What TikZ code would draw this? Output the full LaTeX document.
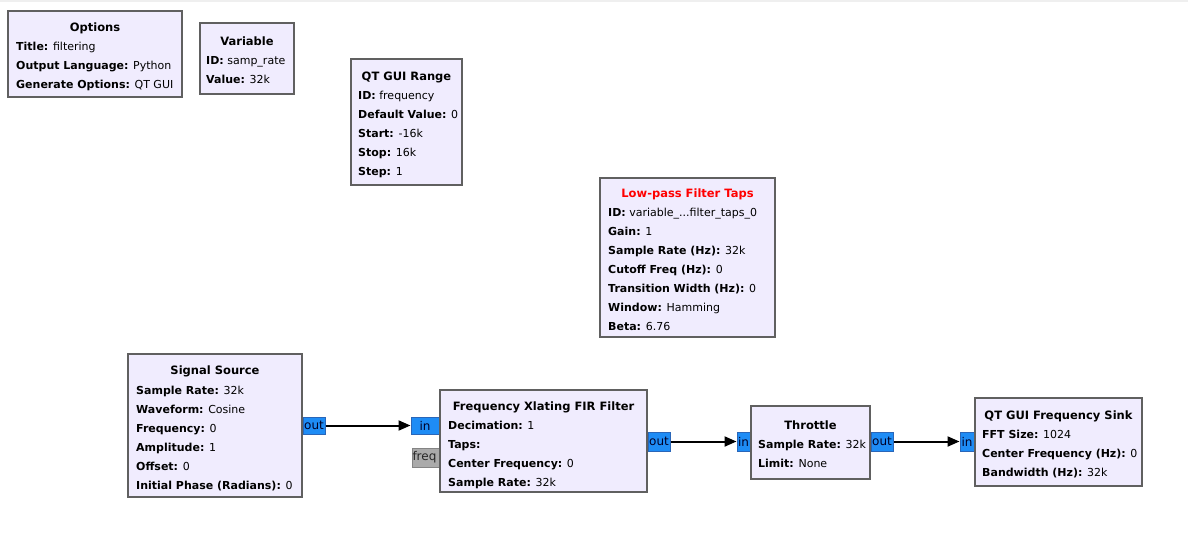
\documentclass[tikz,border=0pt]{standalone}
\usepackage{fontspec}
\setmainfont{DejaVu Sans}
\usetikzlibrary{arrows.meta}
\definecolor{blkfill}{HTML}{F0ECFE}
\definecolor{blkdraw}{HTML}{606060}
\definecolor{portfill}{HTML}{1E8CF5}
\definecolor{portdraw}{HTML}{2A66B8}
\definecolor{gportfill}{HTML}{AAAAAA}
\definecolor{gportdraw}{HTML}{848484}
\definecolor{topband}{HTML}{EFEFEF}
\definecolor{errred}{HTML}{FF0000}
\tikzset{
  blk/.style={draw=blkdraw, line width=2pt, fill=blkfill, inner sep=0pt},
  ttl/.style={font=\fontsize{11.5}{13}\selectfont\bfseries, inner sep=0pt, anchor=base},
  prm/.style={font=\fontsize{11}{13}\selectfont, inner sep=0pt, anchor=base west},
  port/.style={draw=portdraw, line width=1pt, fill=portfill, inner sep=0pt, font=\fontsize{12}{13}\selectfont, text=black!85!blue, minimum height=17pt},
  gport/.style={draw=gportdraw, line width=1pt, fill=gportfill, inner sep=0pt, font=\fontsize{12}{13}\selectfont, text=black!85, minimum height=19pt},
  conn/.style={line width=2pt, -{Triangle[length=12pt,width=10pt]}}
}
\begin{document}
\begin{tikzpicture}[x=1pt,y=-1pt]
\useasboundingbox (0,0) rectangle (1188,539);
\fill[topband] (0,0) rectangle (1188,2);

% Options
\node[blk, minimum width=174pt, minimum height=86pt] (opt) at (95,54) {};
\node[ttl] (optt) at (95,31) {Options};
\node[prm] (opt1) at (16,50) {\textbf{Title:} filtering};
\node[prm] (opt2) at (16,69) {\textbf{Output Language:} Python};
\node[prm] (opt3) at (16,88) {\textbf{Generate Options:} QT GUI};

% Variable
\node[blk, minimum width=94pt, minimum height=71pt] (var) at (247,58.5) {};
\node[ttl] (vart) at (247,45) {Variable};
\node[prm] (var1) at (206,64) {\textbf{ID:} samp\_rate};
\node[prm] (var2) at (206,83) {\textbf{Value:} 32k};

% QT GUI Range
\node[blk, minimum width=111pt, minimum height=126pt] (rng) at (406.5,122) {};
\node[ttl] (rngt) at (406.5,80) {QT GUI Range};
\node[prm] (rng1) at (358,99) {\textbf{ID:} frequency};
\node[prm] (rng2) at (358,118) {\textbf{Default Value:} 0};
\node[prm] (rng3) at (358,137) {\textbf{Start:} -16k};
\node[prm] (rng4) at (358,156) {\textbf{Stop:} 16k};
\node[prm] (rng5) at (358,175) {\textbf{Step:} 1};

% Low-pass Filter Taps
\node[blk, minimum width=175pt, minimum height=159pt] (lpf) at (687.5,257.5) {};
\node[ttl, text=errred] (lpft) at (687.5,197) {Low-pass Filter Taps};
\node[prm] (lpf1) at (608,216) {\textbf{ID:} variable\_...filter\_taps\_0};
\node[prm] (lpf2) at (608,235) {\textbf{Gain:} 1};
\node[prm] (lpf3) at (608,254) {\textbf{Sample Rate (Hz):} 32k};
\node[prm] (lpf4) at (608,273) {\textbf{Cutoff Freq (Hz):} 0};
\node[prm] (lpf5) at (608,292) {\textbf{Transition Width (Hz):} 0};
\node[prm] (lpf6) at (608,311) {\textbf{Window:} Hamming};
\node[prm] (lpf7) at (608,330) {\textbf{Beta:} 6.76};

% ports (drawn before blocks so block borders cover their inner edges)
\node[port, minimum width=22pt] (ssout) at (314,425.5) {out};
\node[port, minimum width=28pt] (xin) at (425,425.5) {in};
\node[gport, minimum width=27pt, text width=26pt, align=left] (xfreq) at (425.5,457.5) {freq};
\node[port, minimum width=22pt, minimum height=19pt] (xout) at (659,441.5) {out};
\node[port, minimum width=13pt, minimum height=19pt] (tin) at (743.5,441.5) {in};
\node[port, minimum width=22pt, minimum height=19pt] (tout) at (882,441.5) {out};
\node[port, minimum width=14pt, minimum height=19pt] (kin) at (967,441.5) {in};

% Signal Source
\node[blk, minimum width=174pt, minimum height=143pt] (src) at (215,425.5) {};
\node[ttl] (srct) at (215,374) {Signal Source};
\node[prm] (src1) at (136,394) {\textbf{Sample Rate:} 32k};
\node[prm] (src2) at (136,413) {\textbf{Waveform:} Cosine};
\node[prm] (src3) at (136,432) {\textbf{Frequency:} 0};
\node[prm] (src4) at (136,451) {\textbf{Amplitude:} 1};
\node[prm] (src5) at (136,470) {\textbf{Offset:} 0};
\node[prm] (src6) at (136,489) {\textbf{Initial Phase (Radians):} 0};

% Frequency Xlating FIR Filter
\node[blk, minimum width=207pt, minimum height=102pt] (xlt) at (543.5,441) {};
\node[ttl] (xltt) at (543.5,410) {Frequency Xlating FIR Filter};
\node[prm] (xlt1) at (448,429) {\textbf{Decimation:} 1};
\node[prm] (xlt2) at (448,448) {\textbf{Taps:}};
\node[prm] (xlt3) at (448,467) {\textbf{Center Frequency:} 0};
\node[prm] (xlt4) at (448,486) {\textbf{Sample Rate:} 32k};

% Throttle
\node[blk, minimum width=119pt, minimum height=73pt] (thr) at (810.5,442.5) {};
\node[ttl] (thrt) at (810.5,429) {Throttle};
\node[prm] (thr1) at (758,448) {\textbf{Sample Rate:} 32k};
\node[prm] (thr2) at (758,467) {\textbf{Limit:} None};

% QT GUI Frequency Sink
\node[blk, minimum width=167pt, minimum height=88pt] (snk) at (1058.5,442) {};
\node[ttl] (snkt) at (1058.5,419) {QT GUI Frequency Sink};
\node[prm] (snk1) at (982,438) {\textbf{FFT Size:} 1024};
\node[prm] (snk2) at (982,457) {\textbf{Center Frequency (Hz):} 0};
\node[prm] (snk3) at (982,476) {\textbf{Bandwidth (Hz):} 32k};

% connections
\draw[conn] (ssout.east) -- (xin.west);
\draw[conn] (xout.east) -- (tin.west);
\draw[conn] (tout.east) -- (kin.west);
\end{tikzpicture}
\end{document}
